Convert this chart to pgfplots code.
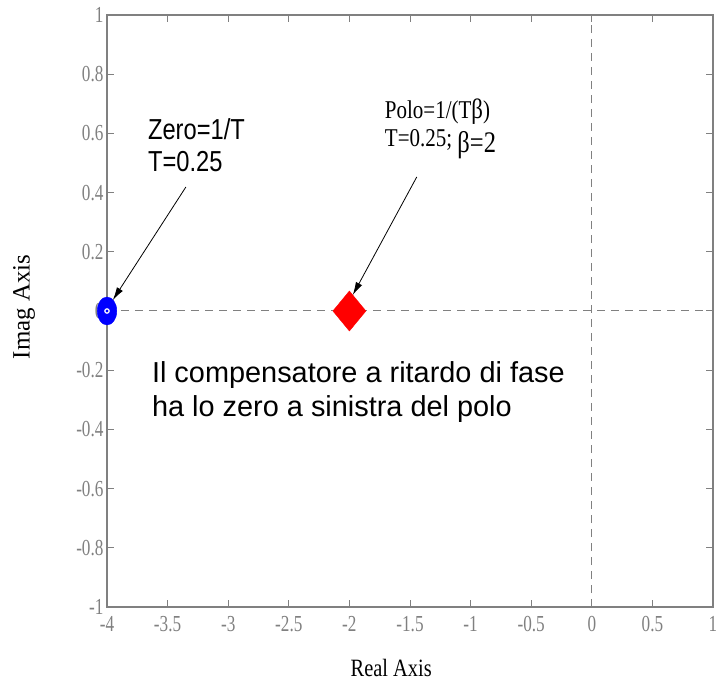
\documentclass[border=0pt]{standalone}
\usepackage{fontspec}
\usepackage{pgfplots}
\pgfplotsset{compat=1.18}
\usetikzlibrary{arrows.meta}
\setmainfont{Liberation Serif}
\newfontfamily\tickfont[FakeStretch=0.75]{Liberation Serif}
\newfontfamily\labfont[FakeStretch=0.82]{Liberation Serif}
\newfontfamily\notesans{Liberation Sans}
\newfontfamily\narrowsans[FakeStretch=0.82]{Liberation Sans}
\newfontfamily\narrowserif[FakeStretch=0.82]{Liberation Serif}
\definecolor{axgray}{RGB}{128,128,128}

\begin{document}
\begin{tikzpicture}
% fixed canvas around the axis box
\useasboundingbox (-107bp,-74bp) rectangle (609bp,607bp);
\begin{axis}[
  at={(0,0)}, anchor=south west,
  scale only axis, width=606bp, height=592bp,
  xmin=-4, xmax=1, ymin=-1, ymax=1,
  xtick={-4,-3.5,-3,-2.5,-2,-1.5,-1,-0.5,0,0.5,1},
  xticklabels={-4,-3.5,-3,-2.5,-2,-1.5,-1,-0.5,0,0.5,1},
  ytick={-1,-0.8,-0.6,-0.4,-0.2,0,0.2,0.4,0.6,0.8,1},
  yticklabels={-1,-0.8,-0.6,-0.4,-0.2,0,0.2,0.4,0.6,0.8,1},
  tick align=inside, major tick length=7bp,
  axis line style={axgray, line width=1.5bp},
  every tick/.style={axgray, line width=1bp},
  ticklabel style={font=\tickfont\fontsize{23}{23}\selectfont, text=axgray},
  xticklabel style={yshift=-6bp},
  xlabel={Real Axis}, ylabel={Imag Axis},
  xlabel style={at={(axis description cs:0.469,0)}, anchor=center, yshift=-61bp,
    font=\labfont\fontsize{25}{25}\selectfont},
  ylabel style={at={(axis description cs:-0.137,0.507)}, anchor=center,
    font=\fontsize{25}{25}\selectfont},
  clip=false,
]
% reference lines through the origin
\addplot[axgray, line width=1bp, dash pattern=on 8bp off 6bp] coordinates {(-4,0) (1,0)};
\addplot[axgray, line width=1bp, dash pattern=on 8bp off 6bp] coordinates {(0,-1) (0,1)};
% zero of the compensator
\addplot[only marks, mark=*, mark size=14bp, mark options={xscale=0.7, fill=blue, draw=blue}] coordinates {(-4,0)};
\addplot[only marks, mark=o, mark size=2.2bp, mark options={draw=white, line width=1.2bp}] coordinates {(-4,0)};
% pole of the compensator
\addplot[only marks, mark=diamond*, mark size=20bp, mark options={xscale=1.1, fill=red, draw=red}] coordinates {(-2,0)};

% annotations
\node[anchor=base west, inner sep=0, font=\narrowsans\fontsize{29}{29}\selectfont] at (axis cs:-3.663,0.578) {Zero=1/T};
\node[anchor=base west, inner sep=0, font=\narrowsans\fontsize{29}{29}\selectfont] at (axis cs:-3.663,0.470) {T=0.25};
\draw[black, line width=0.8bp, -{Latex[length=13bp,width=7bp]}] (axis cs:-3.349,0.419) -- (axis cs:-3.952,0.037);

\node[anchor=base west, inner sep=0, font=\narrowserif\fontsize{25.7}{25.7}\selectfont] at (axis cs:-1.708,0.652) {Polo=1/(T{\fontsize{28}{28}\selectfont β})};
\node[anchor=base west, inner sep=0, font=\narrowserif\fontsize{25.7}{25.7}\selectfont] at (axis cs:-1.708,0.557) {T=0.25; \raisebox{-6bp}{\fontsize{30}{30}\selectfont β=2}};
\draw[black, line width=0.8bp, -{Latex[length=13bp,width=7bp]}] (axis cs:-1.444,0.453) -- (axis cs:-1.972,0.054);

\node[anchor=base west, inner sep=0, font=\notesans\fontsize{29}{29}\selectfont] at (axis cs:-3.630,-0.240) {Il compensatore a ritardo di fase};
\node[anchor=base west, inner sep=0, font=\notesans\fontsize{29}{29}\selectfont] at (axis cs:-3.630,-0.358) {ha lo zero a sinistra del polo};
\end{axis}
\end{tikzpicture}
\end{document}
